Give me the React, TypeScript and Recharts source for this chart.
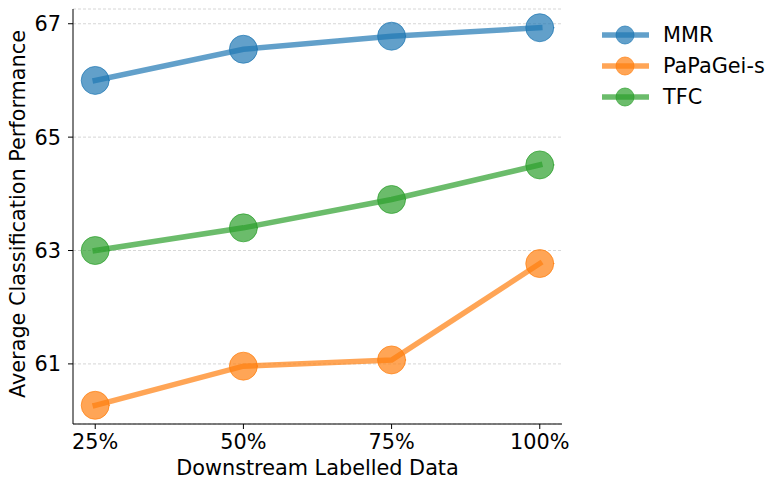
import { LineChart, Line, XAxis, YAxis, CartesianGrid } from "recharts"

const labelFractions = ["25%", "50%", "75%", "100%"]
const mmr = [66.0, 66.55, 66.78, 66.93]
const papagei = [60.27, 60.96, 61.07, 62.77]
const tfc = [63.0, 63.4, 63.9, 64.51]
const yTicks = [61, 63, 65, 67]

const series = [
  { key: "mmr", name: "MMR", color: "#1f77b4", values: mmr },
  { key: "papagei", name: "PaPaGei-s", color: "#ff7f0e", values: papagei },
  { key: "tfc", name: "TFC", color: "#2ca02c", values: tfc },
]

const data = labelFractions.map((label, i) => {
  const row: Record<string, number | string> = { x: i, label }
  series.forEach((s) => {
    row[s.key] = s.values[i]
  })
  return row
})

const font = "'DejaVu Sans', sans-serif"
const fs = 20.8

// custom ticks so the font size actually sticks
function XTick(props: any) {
  const { x, y, payload } = props
  return (
    <text x={x} y={y} dy="0.71em" textAnchor="middle" fontSize={fs} fontFamily={font} fill="#000">
      {labelFractions[payload.value]}
    </text>
  )
}

function YTick(props: any) {
  const { x, y, payload } = props
  return (
    <text x={x} y={y} dy="0.355em" textAnchor="end" fontSize={fs} fontFamily={font} fill="#000">
      {payload.value}
    </text>
  )
}

function YLabel() {
  return (
    <text
      x={18}
      y={214}
      transform="rotate(-90 18 214)"
      textAnchor="middle"
      dominantBaseline="central"
      fontSize={fs}
      fontFamily={font}
      fill="#000"
    >
      Average Classification Performance
    </text>
  )
}

function XLabel() {
  return (
    <text x={317.5} y={475} textAnchor="middle" fontSize={fs} fontFamily={font} fill="#000">
      Downstream Labelled Data
    </text>
  )
}

function LegendBox() {
  return (
    <div style={{ position: "absolute", left: 598, top: 20, fontFamily: font, fontSize: fs }}>
      {series.map((s) => (
        <div key={s.key} style={{ display: "flex", alignItems: "center", height: 30.7 }}>
          <svg width={56} height={24} style={{ display: "block" }}>
            <line x1={4} x2={51} y1={12} y2={12} stroke={s.color} strokeOpacity={0.7} strokeWidth={5.5} />
            <circle cx={27} cy={12} r={9} fill={s.color} fillOpacity={0.7} stroke={s.color} strokeOpacity={0.7} />
          </svg>
          <span style={{ marginLeft: 9, lineHeight: "24px", color: "#000" }}>{s.name}</span>
        </div>
      ))}
    </div>
  )
}

export default function App() {
  return (
    <div style={{ position: "absolute", left: 0, top: 0, width: 783, height: 489, background: "#fff" }}>
      <LineChart width={783} height={489} data={data} margin={{ top: 9, right: 221, bottom: 0, left: 0 }}>
        <CartesianGrid
          horizontal={true}
          vertical={false}
          stroke="#cccccc"
          strokeWidth={0.8}
          strokeDasharray="3 2"
        />
        <XAxis
          dataKey="x"
          type="number"
          domain={[-0.15, 3.15]}
          ticks={[0, 1, 2, 3]}
          height={65}
          tickSize={5}
          tickMargin={5}
          axisLine={{ stroke: "#000", strokeWidth: 1 }}
          tickLine={{ stroke: "#000", strokeWidth: 1 }}
          tick={<XTick />}
          allowDataOverflow
        />
        <YAxis
          type="number"
          domain={[59.94, 67.26]}
          ticks={yTicks}
          width={73}
          tickSize={5}
          tickMargin={7}
          axisLine={{ stroke: "#000", strokeWidth: 1 }}
          tickLine={{ stroke: "#000", strokeWidth: 1 }}
          tick={<YTick />}
          allowDataOverflow
        />
        {series.map((s) => (
          <Line
            key={s.key}
            dataKey={s.key}
            name={s.name}
            type="linear"
            stroke={s.color}
            strokeOpacity={0.7}
            strokeWidth={5.5}
            strokeLinecap="square"
            dot={{ r: 14, fill: s.color, fillOpacity: 0.7, stroke: s.color, strokeOpacity: 0.7, strokeWidth: 1 }}
            activeDot={false}
            isAnimationActive={false}
          />
        ))}
        <YLabel />
        <XLabel />
      </LineChart>
      <LegendBox />
    </div>
  )
}
